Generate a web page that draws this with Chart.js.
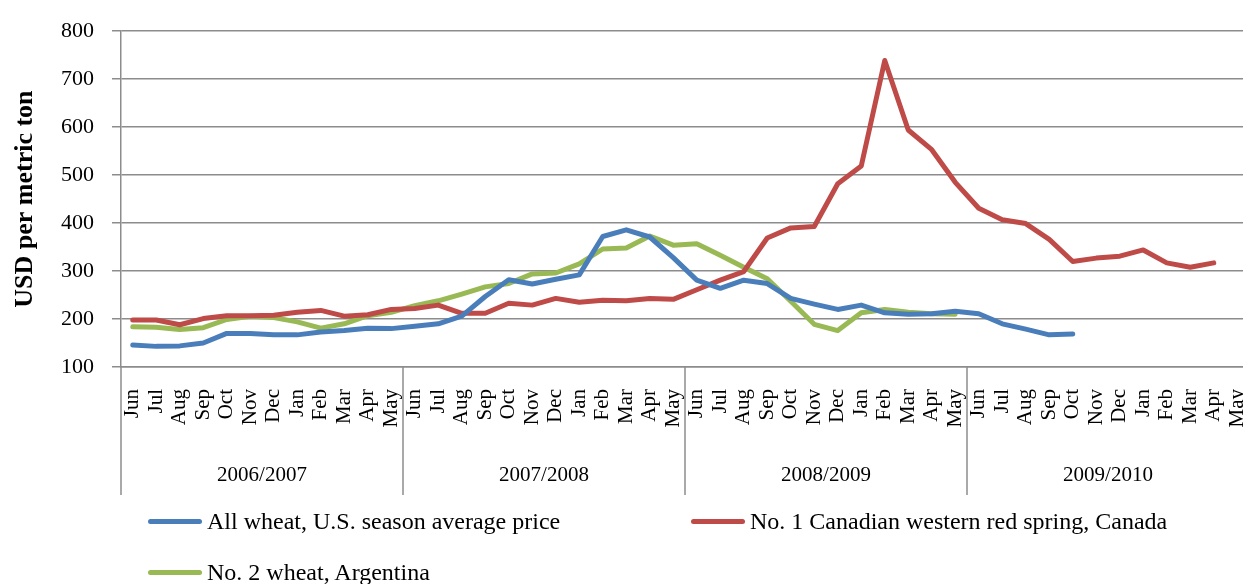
<!DOCTYPE html>
<html>
<head>
<meta charset="utf-8">
<script src="https://cdn.jsdelivr.net/npm/chart.js"></script>
<style>
  html, body { margin: 0; padding: 0; background: #fff; overflow: hidden; }
  #wrap { position: relative; width: 1243px; height: 584px; overflow: hidden; }
  #legend .item { position: absolute; display: flex; align-items: center; height: 30px;
    font-family: "Liberation Serif", "DejaVu Serif", serif; font-size: 24px; color: #000; white-space: nowrap; }
  #legend .swatch { display: inline-block; width: 54px; height: 5px; border-radius: 3px; margin-right: 5px; }
</style>
</head>
<body>
<div id="wrap">
  <canvas id="chart" width="1250" height="584"></canvas>
  <div id="legend"></div>
</div>
<script>
// category axis: months inside each marketing year
var months = ['Jun','Jul','Aug','Sep','Oct','Nov','Dec','Jan','Feb','Mar','Apr','May'];
var years = ['2006/2007','2007/2008','2008/2009','2009/2010'];

// USD per metric ton, Jun 2006 .. May 2010
var usWheat = [146,143,144,150,170,170,167,167,173,176,181,180,
               185,190,206,247,282,273,283,292,372,386,371,328,
               281,264,281,274,243,231,220,229,213,210,211,216,
               211,190,179,167,169,null,null,null,null,null,null,null];
var canadaCwrs = [198,198,188,201,207,207,208,214,218,206,209,220,
                  222,229,212,212,233,229,243,235,239,238,243,241,
                  261,281,299,369,390,393,482,519,739,594,553,485,
                  431,407,399,366,320,327,331,344,317,308,317,null];
var argentina = [184,183,178,182,199,206,203,194,181,190,207,214,
                 228,238,252,267,274,294,296,315,346,348,373,354,
                 357,333,308,284,237,189,176,213,220,214,211,210,
                 null,null,null,null,null,null,null,null,null,null,null,null];

var categories = [];
for (var y = 0; y < years.length; y++) {
  for (var m = 0; m < months.length; m++) categories.push(months[m]);
}

var serif = '"Liberation Serif", "DejaVu Serif", serif';
var gridColor = '#8c8c8c';

// year groups + dividers under the month labels
var yearGroups = {
  id: 'yearGroups',
  afterDraw: function(chart) {
    var xs = chart.scales.x, c = chart.ctx, area = chart.chartArea;
    var n = categories.length;
    var edges = [];
    for (var g = 0; g <= years.length; g++) {
      var idx = g * months.length;
      var x;
      if (idx === 0) x = xs.left;
      else if (idx >= n) x = xs.right;
      else x = (xs.getPixelForValue(idx - 1) + xs.getPixelForValue(idx)) / 2;
      edges.push(x);
    }
    c.save();
    c.strokeStyle = gridColor;
    c.lineWidth = 1.5;
    edges.forEach(function(x) {
      c.beginPath();
      c.moveTo(x, area.bottom);
      c.lineTo(x, xs.bottom);
      c.stroke();
    });
    c.fillStyle = '#000';
    c.font = '21px ' + serif;
    c.textAlign = 'center';
    c.textBaseline = 'middle';
    for (var i = 0; i < years.length; i++) {
      c.fillText(years[i], (edges[i] + edges[i + 1]) / 2, xs.bottom - 20);
    }
    c.restore();
  }
};

var mychart = document.getElementById('chart').getContext('2d');
var chart = new Chart(mychart, {
  type: 'line',
  data: {
    labels: categories,
    datasets: [
      { label: 'All wheat, U.S. season average price', data: usWheat, borderColor: '#4a7ebb' },
      { label: 'No. 1 Canadian western red spring, Canada', data: canadaCwrs, borderColor: '#be4b48' },
      { label: 'No. 2 wheat, Argentina', data: argentina, borderColor: '#98b954' }
    ]
  },
  options: {
    responsive: false,
    animation: false,
    devicePixelRatio: 1,
    layout: { padding: { top: 24, right: 1, bottom: 89, left: 0 } },
    plugins: { legend: { display: false }, tooltip: { enabled: false } },
    elements: {
      point: { radius: 0 },
      line: { borderWidth: 5, tension: 0, borderCapStyle: 'round', borderJoinStyle: 'round' }
    },
    scales: {
      x: {
        offset: true,
        grid: { display: false, drawTicks: false },
        border: { color: gridColor, width: 1.5 },
        ticks: { autoSkip: false, minRotation: 90, maxRotation: 90, padding: 22, color: '#000',
                 font: { family: serif, size: 21 } },
        afterFit: function(s) { s.height = 128; s.paddingLeft = 0; s.paddingRight = 0; }
      },
      y: {
        min: 100, max: 800,
        ticks: { stepSize: 100, padding: 18, color: '#000', font: { family: serif, size: 22 } },
        grid: { color: gridColor, lineWidth: 1.5, tickLength: 9 },
        border: { color: gridColor, width: 1.5 },
        title: { display: true, text: 'USD per metric ton', color: '#000',
                 font: { family: serif, size: 26, weight: 'bold' }, padding: { top: 10, bottom: 0 } },
        afterFit: function(s) { s.width = 121; }
      }
    }
  },
  plugins: [yearGroups]
});

// legend laid out like the original (two columns, two rows)
var legendSpots = [[148, 521], [691, 521], [148, 572]];
var legendBox = document.getElementById('legend');
chart.data.datasets.forEach(function(ds, i) {
  var item = document.createElement('div');
  item.className = 'item';
  item.style.left = legendSpots[i][0] + 'px';
  item.style.top = (legendSpots[i][1] - 15) + 'px';
  var sw = document.createElement('span');
  sw.className = 'swatch';
  sw.style.background = ds.borderColor;
  item.appendChild(sw);
  item.appendChild(document.createTextNode(ds.label));
  legendBox.appendChild(item);
});
</script>
</body>
</html>
